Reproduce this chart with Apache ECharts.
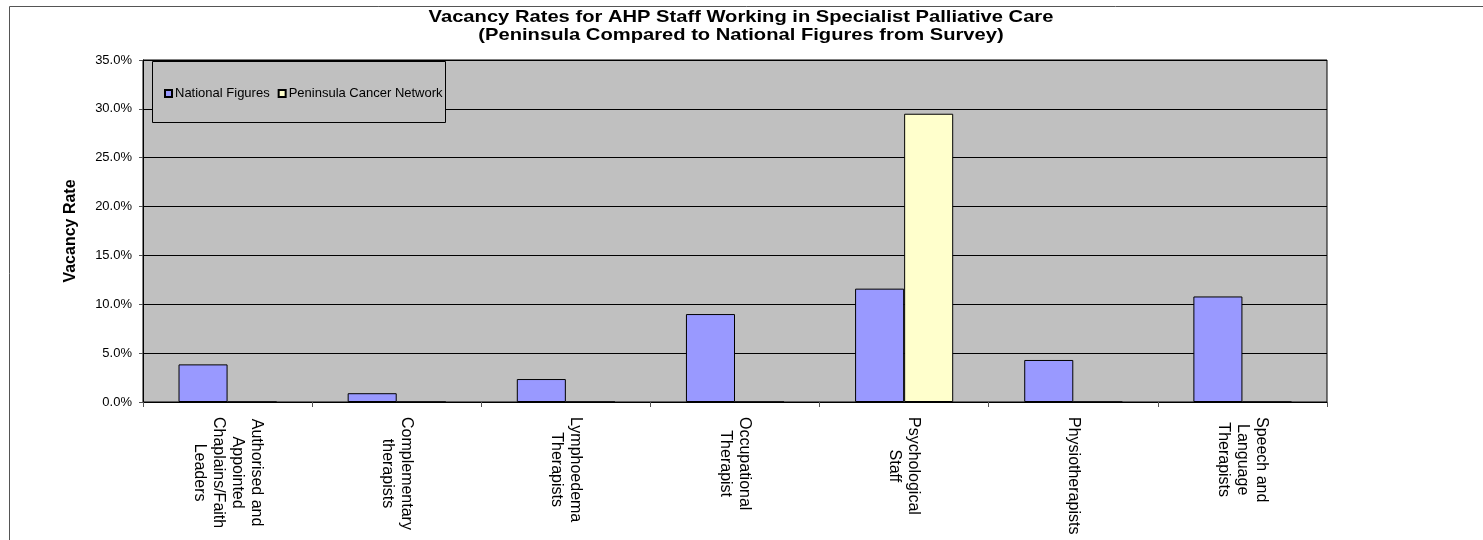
<!DOCTYPE html>
<html>
<head>
<meta charset="utf-8">
<script src="https://cdn.jsdelivr.net/npm/echarts@6/dist/echarts.min.js"></script>
<style>
  html, body { margin: 0; padding: 0; background: #fff; }
  #chart { width: 1483px; height: 540px; }
</style>
</head>
<body>
<div id="chart"></div>
<script>
  // categories (x axis), multi-line as in the sheet
  var categories = [
    'Authorised and\nAppointed\nChaplains/Faith\nLeaders',
    'Complementary\ntherapists',
    'Lymphoedema\nTherapists',
    'Occupational\nTherapist',
    'Psychological\nStaff',
    'Physiotherapists',
    'Speech and\nLanguage\nTherapists'
  ];
  // vacancy rate, percent
  var nationalFigures = [3.85, 0.9, 2.35, 9.0, 11.6, 4.3, 10.8];
  var peninsulaNetwork = [0, 0, 0, 0, 29.5, 0, 0];
  var seriesNames = ['National Figures', 'Peninsula Cancer Network'];
  var yTicks = { min: 0, max: 35, interval: 5 };
  var titleText = 'Vacancy Rates for AHP Staff Working in Specialist Palliative Care\n(Peninsula Compared to National Figures from Survey)';

  var font = '"Liberation Sans", Arial, sans-serif';

  var chart = echarts.init(document.getElementById('chart'));
  var option = {
    backgroundColor: '#fff',
    animation: false,
    legend: {
      data: seriesNames,
      left: 159,
      top: 82,
      itemWidth: 7,
      itemHeight: 7,
      itemGap: 8,
      icon: 'rect',
      textStyle: { fontFamily: font, fontSize: 13, color: '#000', padding: [0, 0, 0, -2] }
    },
    grid: {
      left: 143,
      top: 60,
      right: 156,
      bottom: 138,
      show: true,
      backgroundColor: '#C0C0C0',
      borderColor: '#000',
      borderWidth: 1
    },
    graphic: [
      {
        // outer chart frame (runs off the picture to the right and bottom)
        type: 'rect',
        z: -1,
        shape: { x: 9.5, y: 6.5, width: 1600, height: 700 },
        style: { fill: 'none', stroke: '#555', lineWidth: 1 }
      },
      {
        // legend box
        type: 'rect',
        z: 2,
        shape: { x: 152.5, y: 61.5, width: 293, height: 61 },
        style: { fill: '#C0C0C0', stroke: '#000', lineWidth: 1 }
      },
      {
        // title, the sheet's font is wider than Arial
        type: 'text',
        x: 741,
        y: 9,
        scaleX: 1.26,
        scaleY: 1.08,
        style: {
          text: titleText,
          font: 'bold 16px ' + font,
          fill: '#000',
          align: 'center',
          verticalAlign: 'top',
          lineHeight: 16
        }
      }
    ],
    xAxis: {
      type: 'category',
      data: categories,
      axisLine: { lineStyle: { color: '#000', width: 1 } },
      axisTick: { show: true, length: 5, lineStyle: { color: '#555' } },
      axisLabel: {
        rotate: -90,
        margin: 15,
        color: '#000',
        fontFamily: font,
        fontSize: 16,
        interval: 0,
        formatter: function (v) {
          return v.split('\n').map(function (s) { return '{l|' + s + '}'; }).join('\n');
        },
        rich: {
          l: { align: 'center', fontFamily: font, fontSize: 16, lineHeight: 19, color: '#000' }
        }
      }
    },
    yAxis: {
      type: 'value',
      min: yTicks.min,
      max: yTicks.max,
      interval: yTicks.interval,
      name: 'Vacancy Rate',
      nameLocation: 'middle',
      nameGap: 64,
      nameRotate: 90,
      nameTextStyle: { fontFamily: font, fontSize: 16, fontWeight: 'bold', color: '#000' },
      axisLine: { show: true, lineStyle: { color: '#000', width: 1 } },
      axisTick: { show: true, length: 4, lineStyle: { color: '#555' } },
      axisLabel: {
        margin: 11,
        color: '#000',
        fontFamily: font,
        fontSize: 13,
        formatter: function (v) { return v.toFixed(1) + '%'; }
      },
      splitLine: { show: true, lineStyle: { color: '#000', width: 1 } }
    },
    series: [
      {
        name: seriesNames[0],
        type: 'bar',
        data: nationalFigures,
        barGap: '0%',
        barCategoryGap: '42%',
        itemStyle: { color: '#9999FF', borderColor: '#000', borderWidth: 1 }
      },
      {
        name: seriesNames[1],
        type: 'bar',
        data: peninsulaNetwork,
        itemStyle: { color: '#FFFFCC', borderColor: '#000', borderWidth: 1 }
      }
    ]
  };
  chart.setOption(option);
</script>
</body>
</html>
